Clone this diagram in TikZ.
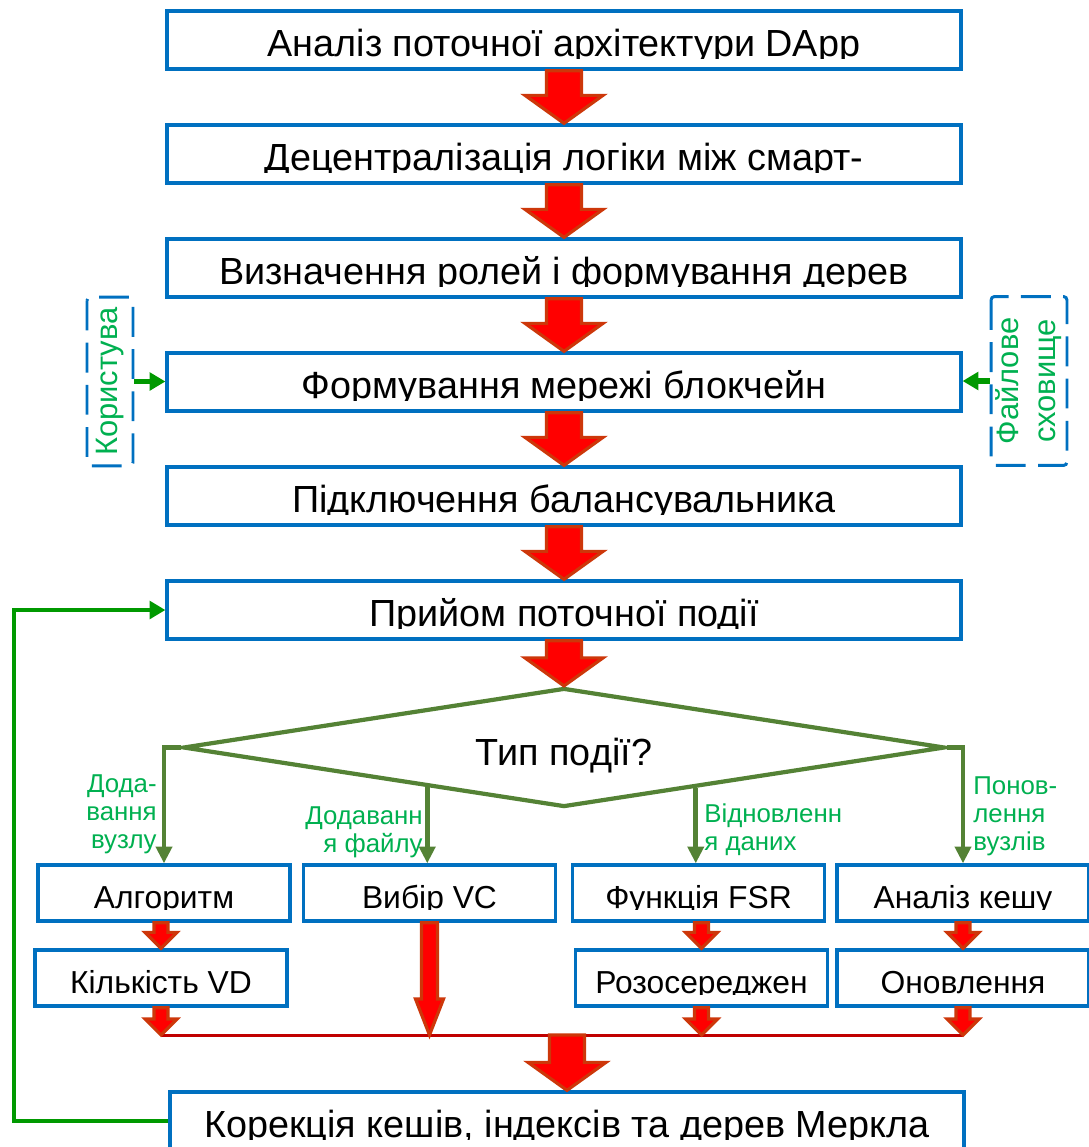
\documentclass[tikz,border=0pt]{standalone}
\usepackage{fontspec}
\setmainfont{Liberation Sans}
\usetikzlibrary{arrows.meta,calc,shapes.geometric}

\definecolor{boxblue}{RGB}{0,112,192}
\definecolor{arrred}{RGB}{255,0,0}
\definecolor{arredge}{RGB}{205,55,10}
\definecolor{busred}{RGB}{192,0,0}
\definecolor{decolive}{RGB}{84,130,53}
\definecolor{loopgreen}{RGB}{0,153,0}
\definecolor{labgreen}{RGB}{0,176,80}

% block arrow: from, to, shaft half width, head half width, head length
\newcommand{\redarrow}[5]{%
  \draw[redarr] ($(#1 -| #2)+(-#3,0)$) -- ($(#2)+(-#3,-#5)$) -- ($(#2)+(-#4,-#5)$) -- (#2)
    -- ($(#2)+(#4,-#5)$) -- ($(#2)+(#3,-#5)$) -- ($(#1 -| #2)+(#3,0)$) -- cycle;}

\begin{document}
\begin{tikzpicture}[
    x=0.02cm, y=-0.02cm,
    mbox/.style={draw=boxblue, line width=1.9pt, minimum width=15.88cm, minimum height=1.16cm, inner sep=0pt,
      path picture={\clip ([yshift=0.22cm]path picture bounding box.south west) rectangle (path picture bounding box.north east);
        \node[anchor=base, inner sep=0pt, font=\fontsize{21.5}{25}\selectfont] at ([yshift=0.26cm]path picture bounding box.south) {#1};}},
    sbox/.style={draw=boxblue, line width=1.9pt, minimum width=5.04cm, minimum height=1.12cm, inner sep=0pt,
      path picture={\clip ([yshift=0.24cm]path picture bounding box.south west) rectangle (path picture bounding box.north east);
        \node[anchor=base, inner sep=0pt, font=\fontsize{18.1}{22}\selectfont] at ([yshift=0.26cm]path picture bounding box.south) {#1};}},
    decision/.style={diamond, draw=decolive, line width=2.4pt, minimum width=15.24cm, minimum height=2.38cm, aspect=6.4,
      inner sep=0pt, text height=0.7cm, text depth=0pt, font=\fontsize{21.5}{25}\selectfont},
    sidebox/.style={draw=boxblue, line width=1.7pt, dash pattern=on 17pt off 7pt, rounded corners=2pt,
      text=labgreen, font=\fontsize{17.6}{21}\selectfont, inner sep=0pt},
    lab/.style={text=labgreen, font=\fontsize{14.7}{15.9}\selectfont, inner sep=0pt},
    redarr/.style={fill=arrred, draw=arredge, line width=1.8pt, line join=miter},
    busline/.style={draw=busred, line width=1.7pt},
    decline/.style={draw=decolive, line width=2.6pt, line join=miter, -{Triangle[width=9pt,length=9.5pt]}},
    sidearr/.style={draw=loopgreen, line width=3pt, -{Triangle[width=10pt,length=9pt]}},
    loopline/.style={draw=loopgreen, line width=2.8pt, line join=miter, -{Triangle[width=10pt,length=9pt]}}
]
    \clip (0,0) rectangle (1089,1147);

    % --- main chain ---
    \node[mbox={Аналіз поточної архітектури DApp}] (b1) at (564,40) {};
    \node[mbox={Децентралізація логіки між смарт-}] (b2) at (564,154) {};
    \node[mbox={Визначення ролей і формування дерев}] (b3) at (564,268) {};
    \node[mbox={Формування мережі блокчейн}] (b4) at (564,382) {};
    \node[mbox={Підключення балансувальника}] (b5) at (564,496) {};
    \node[mbox={Прийом поточної події}] (b6) at (564,610) {};

    \foreach \a/\b in {b1/b2, b2/b3, b3/b4, b4/b5, b5/b6} {
        \redarrow{\a.south}{\b.north}{17.5}{39}{28}
    }

    % --- side sources ---
    \node[sidebox, rotate=90, minimum width=3.38cm, minimum height=0.92cm] (usr) at (110,381.5) {Користува};
    \node[sidebox, rotate=90, minimum width=3.38cm, minimum height=1.52cm, align=center] (fs) at (1029,381) {Файлове\\сховище};
    \draw[sidearr] (usr.south) -- (usr.south -| b4.west);
    \draw[sidearr] (fs.north) -- (fs.north -| b4.east);

    % --- decision ---
    \node[decision] (dec) at (564,747.5) {Тип події?};
    \redarrow{b6.south}{dec.north}{17.5}{39}{28}

    % --- branches ---
    \node[sbox={Алгоритм}] (alg) at (164,893) {};
    \node[sbox={Вибір VC}] (vib) at (429.5,893) {};
    \node[sbox={Функція FSR}] (fsr) at (698.5,893) {};
    \node[sbox={Аналіз кешу}] (kesh) at (963,893) {};
    \node[sbox={Кількість VD}] (kil) at (161,978) {};
    \node[sbox={Розосереджен}] (roz) at (701.5,978) {};
    \node[sbox={Оновлення}] (onov) at (963,978) {};

    \coordinate (dl) at ($(dec.west)!0.643!(dec.south)$);
    \coordinate (dr) at ($(dec.east)!0.656!(dec.south)$);
    \draw[decline] (dec.west) -- (dec.west -| alg.north) -- (alg.north);
    \draw[decline] (dl) -- (dl |- vib.north);
    \draw[decline] (dr) -- (dr |- fsr.north);
    \draw[decline] (dec.east) -- (dec.east -| kesh.north) -- (kesh.north);

    \node[lab, align=right, anchor=base east] (l1) at (157,848) {Дода-\\вання\\вузлу};
    \node[lab, align=right, anchor=base east] (l2) at (423,852) {Додаванн\\я файлу};
    \node[lab, align=left, anchor=base west] (l3) at (704,850) {Відновленн\\я даних};
    \node[lab, align=left, anchor=base west] (l4) at (973,850) {Понов-\\лення\\вузлів};

    \redarrow{alg.south}{kil.north}{7}{16}{16}
    \redarrow{fsr.south}{roz.north}{7}{16}{16}
    \redarrow{kesh.south}{onov.north}{7}{16}{16}

    % --- merge ---
    \node[mbox={Корекція кешів, індексів та дерев Меркла}] (fin) at (567,1121) {};
    \coordinate (busl) at (161,1035);
    \coordinate (busr) at (963,1035);
    \coordinate (vibt) at (vib.south |- busl);
    \coordinate (rozt) at (roz.south |- busl);
    \coordinate (fint) at (fin.north |- busl);
    \draw[busline] (busl) -- (busr);
    \redarrow{kil.south}{busl}{7}{16}{16}
    \redarrow{vib.south}{vibt}{8}{14}{36}
    \redarrow{roz.south}{rozt}{7}{16}{16}
    \redarrow{onov.south}{busr}{7}{16}{16}
    \redarrow{fint}{fin.north}{17.5}{39}{28}

    % --- loop back ---
    \coordinate (lp) at (14,1121);
    \draw[loopline] (fin.west) -- (lp) |- (b6.west);

\end{tikzpicture}
\end{document}
